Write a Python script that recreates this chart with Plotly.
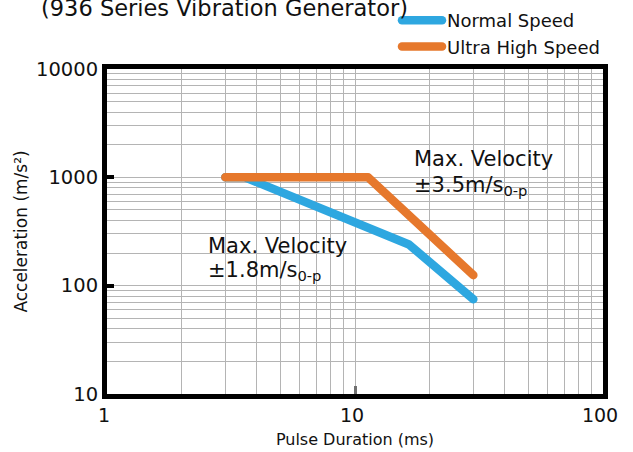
import plotly.graph_objects as go

# ---- data ----
normal_x = [3, 3.6, 16.5, 30]
normal_y = [1000, 1000, 240, 75]
ultra_x = [3, 11.3, 30]
ultra_y = [1000, 1000, 125]
x_ticks = [1, 10, 100]
x_tick_labels = ["1", "10", "100"]
y_ticks = [10, 100, 1000, 10000]
y_tick_labels = ["10", "100", "1000", "10000"]
x_minor = [m * d for d in (1, 10) for m in range(2, 10)]
y_minor = [m * d for d in (10, 100, 1000) for m in range(2, 10)]

FONT = "DejaVu Sans, Verdana, sans-serif"
BLUE = "#2ea7e0"
ORANGE = "#e6782c"

W, H = 633, 452
L, R, T, B = 107, 603, 69, 394
PW, PH = R - L, B - T


def px(x, y):
    return (x - L) / PW, (B - y) / PH


fig = go.Figure()
fig.add_trace(go.Scatter(x=normal_x, y=normal_y, mode="lines", name="Normal Speed",
                         line=dict(color=BLUE, width=8.5)))
fig.add_trace(go.Scatter(x=ultra_x, y=ultra_y, mode="lines", name="Ultra High Speed",
                         line=dict(color=ORANGE, width=8.5)))

grid = "#b4b4b4"
fig.update_xaxes(type="log", range=[0, 2], tickmode="array", tickvals=x_ticks,
                 ticktext=x_tick_labels, showgrid=True, gridcolor=grid, gridwidth=1,
                 minor=dict(tickmode="array", tickvals=x_minor, showgrid=True,
                            gridcolor=grid, gridwidth=1, ticks=""),
                 showline=True, linewidth=5, linecolor="black", mirror=True,
                 ticks="inside", ticklen=8, tickwidth=3, tickcolor="#707070",
                 tickfont=dict(family=FONT, size=19, color="#111"),
                 ticklabelshift=-3, automargin=False,
                 title=dict(text="Pulse Duration (ms)", font=dict(family=FONT, size=16, color="#111"),
                            standoff=11),
                 zeroline=False)
fig.update_yaxes(type="log", range=[1, 4], tickmode="array", tickvals=y_ticks,
                 ticktext=y_tick_labels, showgrid=True, gridcolor=grid, gridwidth=1,
                 minor=dict(tickmode="array", tickvals=y_minor, showgrid=True,
                            gridcolor=grid, gridwidth=1, ticks=""),
                 showline=True, linewidth=5, linecolor="black", mirror=True,
                 ticks="inside", ticklen=7, tickwidth=4, tickcolor="black",
                 tickfont=dict(family=FONT, size=19.5, color="#111"),
                 automargin=False,
                 title=dict(text="Acceleration (m/s²)", font=dict(family=FONT, size=17, color="#111"),
                            standoff=6),
                 zeroline=False)

annots = []
tx, ty = px(224, 8)
annots.append(dict(text="(936 Series Vibration Generator)", x=tx, y=ty, xref="paper", yref="paper",
                   xanchor="center", yanchor="middle", showarrow=False,
                   font=dict(family=FONT, size=22.5, color="#111")))
for (x0, y0, txt) in [(206, 246, "Max. Velocity"), (206, 271, "±1.8m/s<sub>0-p</sub>"),
                      (412, 159, "Max. Velocity"), (412, 186, "±3.5m/s<sub>0-p</sub>")]:
    ax_, ay_ = px(x0, y0)
    annots.append(dict(text=txt, x=ax_, y=ay_, xref="paper", yref="paper",
                       xanchor="left", yanchor="middle", showarrow=False,
                       font=dict(family=FONT, size=21, color="#111")))

lx, ly = px(397, 2)
fig.update_layout(
    width=W, height=H,
    margin=dict(l=L, r=W - R, t=T, b=H - B, pad=0, autoexpand=False),
    paper_bgcolor="white", plot_bgcolor="white",
    annotations=annots,
    showlegend=True,
    legend=dict(x=lx, y=ly, xanchor="left", yanchor="top", bgcolor="rgba(0,0,0,0)",
                font=dict(family=FONT, size=18, color="#111"), tracegroupgap=0,
                itemwidth=40),
    font=dict(family=FONT),
)

post = """
document.documentElement.style.margin='0';
document.body.style.margin='0';
document.body.style.padding='0';
function rc(){
document.querySelectorAll('path.js-line').forEach(function(p){
  p.style.strokeLinecap='round'; p.style.strokeLinejoin='round';
  p.setAttribute('stroke-linecap','round'); p.setAttribute('stroke-linejoin','round');
});}
rc(); setTimeout(rc, 50); setTimeout(rc, 300);
"""
fig.write_html("out.html", post_script=post, config={"displayModeBar": False})
